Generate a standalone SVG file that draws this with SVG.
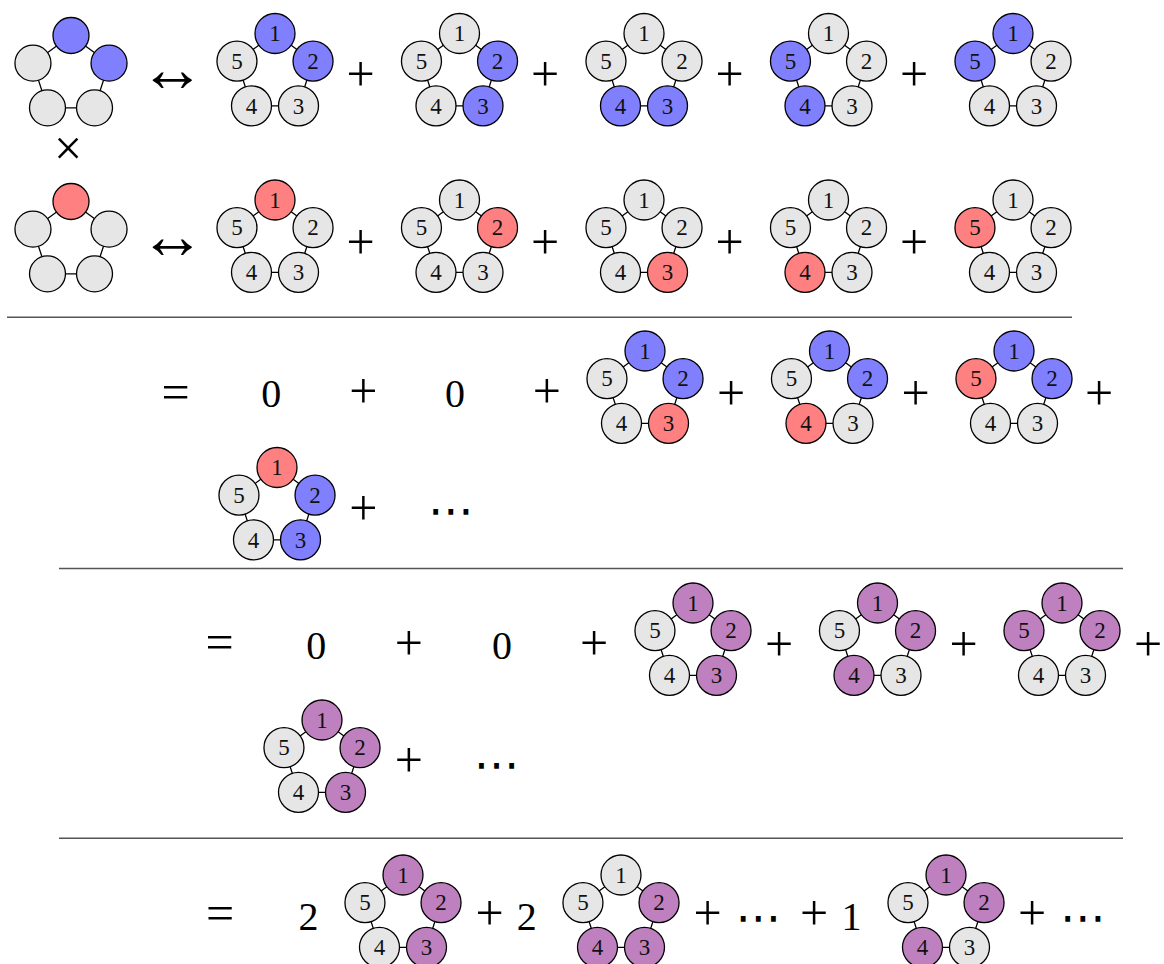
<svg xmlns="http://www.w3.org/2000/svg" xmlns:xlink="http://www.w3.org/1999/xlink" width="1164" height="964" viewBox="0 0 1164 964">
<style>
.ring{fill:none;stroke:#000;stroke-width:1.3}
circle{stroke:#000;stroke-width:1.3;fill:#E6E6E6}
.b{fill:#8080FF}.r{fill:#FF8080}.p{fill:#BF80BF}
.lab{font-family:"Liberation Serif",serif;font-size:23px;text-anchor:middle;fill:#111}
.num{font-family:"Liberation Serif",serif;font-size:40px;text-anchor:middle;fill:#000}
.op{font-family:"Liberation Serif",serif;font-size:50px;text-anchor:middle;fill:#000}
.arr{font-family:"Liberation Serif","DejaVu Sans",serif;font-size:66px;text-anchor:middle;fill:#000}
.sym{font-family:"DejaVu Sans",sans-serif;text-anchor:middle;fill:#000}
.rule{stroke:#555;stroke-width:1.4}
</style>
<defs>
<polygon id="ring" class="ring" points="0,-40 38.04,-12.36 23.51,32.36 -23.51,32.36 -38.04,-12.36"/>
</defs>

<!-- row 1 -->
<g id="r1-lhs" transform="translate(71,75.5)">
<use href="#ring"/>
<circle class="b" cx="0" cy="-40" r="18"/><circle class="b" cx="38.04" cy="-12.36" r="18"/><circle cx="23.51" cy="32.36" r="18"/><circle cx="-23.51" cy="32.36" r="18"/><circle cx="-38.04" cy="-12.36" r="18"/>
</g>
<g id="r1-t1" transform="translate(275,73.5)">
<use href="#ring"/>
<circle class="b" cx="0" cy="-40" r="20"/><circle class="b" cx="38.04" cy="-12.36" r="20"/><circle cx="23.51" cy="32.36" r="20"/><circle cx="-23.51" cy="32.36" r="20"/><circle cx="-38.04" cy="-12.36" r="20"/>
<text class="lab" x="0" y="-32.2">1</text><text class="lab" x="38.04" y="-4.56">2</text><text class="lab" x="23.51" y="40.16">3</text><text class="lab" x="-23.51" y="40.16">4</text><text class="lab" x="-38.04" y="-4.56">5</text>
</g>
<g id="r1-t2" transform="translate(459.5,73.5)">
<use href="#ring"/>
<circle cx="0" cy="-40" r="20"/><circle class="b" cx="38.04" cy="-12.36" r="20"/><circle class="b" cx="23.51" cy="32.36" r="20"/><circle cx="-23.51" cy="32.36" r="20"/><circle cx="-38.04" cy="-12.36" r="20"/>
<text class="lab" x="0" y="-32.2">1</text><text class="lab" x="38.04" y="-4.56">2</text><text class="lab" x="23.51" y="40.16">3</text><text class="lab" x="-23.51" y="40.16">4</text><text class="lab" x="-38.04" y="-4.56">5</text>
</g>
<g id="r1-t3" transform="translate(644,73.5)">
<use href="#ring"/>
<circle cx="0" cy="-40" r="20"/><circle cx="38.04" cy="-12.36" r="20"/><circle class="b" cx="23.51" cy="32.36" r="20"/><circle class="b" cx="-23.51" cy="32.36" r="20"/><circle cx="-38.04" cy="-12.36" r="20"/>
<text class="lab" x="0" y="-32.2">1</text><text class="lab" x="38.04" y="-4.56">2</text><text class="lab" x="23.51" y="40.16">3</text><text class="lab" x="-23.51" y="40.16">4</text><text class="lab" x="-38.04" y="-4.56">5</text>
</g>
<g id="r1-t4" transform="translate(828.5,73.5)">
<use href="#ring"/>
<circle cx="0" cy="-40" r="20"/><circle cx="38.04" cy="-12.36" r="20"/><circle cx="23.51" cy="32.36" r="20"/><circle class="b" cx="-23.51" cy="32.36" r="20"/><circle class="b" cx="-38.04" cy="-12.36" r="20"/>
<text class="lab" x="0" y="-32.2">1</text><text class="lab" x="38.04" y="-4.56">2</text><text class="lab" x="23.51" y="40.16">3</text><text class="lab" x="-23.51" y="40.16">4</text><text class="lab" x="-38.04" y="-4.56">5</text>
</g>
<g id="r1-t5" transform="translate(1013,73.5)">
<use href="#ring"/>
<circle class="b" cx="0" cy="-40" r="20"/><circle cx="38.04" cy="-12.36" r="20"/><circle cx="23.51" cy="32.36" r="20"/><circle cx="-23.51" cy="32.36" r="20"/><circle class="b" cx="-38.04" cy="-12.36" r="20"/>
<text class="lab" x="0" y="-32.2">1</text><text class="lab" x="38.04" y="-4.56">2</text><text class="lab" x="23.51" y="40.16">3</text><text class="lab" x="-23.51" y="40.16">4</text><text class="lab" x="-38.04" y="-4.56">5</text>
</g>

<!-- row 2 -->
<g id="r2-lhs" transform="translate(71,241.5)">
<use href="#ring"/>
<circle class="r" cx="0" cy="-40" r="18"/><circle cx="38.04" cy="-12.36" r="18"/><circle cx="23.51" cy="32.36" r="18"/><circle cx="-23.51" cy="32.36" r="18"/><circle cx="-38.04" cy="-12.36" r="18"/>
</g>
<g id="r2-t1" transform="translate(275,240)">
<use href="#ring"/>
<circle class="r" cx="0" cy="-40" r="20"/><circle cx="38.04" cy="-12.36" r="20"/><circle cx="23.51" cy="32.36" r="20"/><circle cx="-23.51" cy="32.36" r="20"/><circle cx="-38.04" cy="-12.36" r="20"/>
<text class="lab" x="0" y="-32.2">1</text><text class="lab" x="38.04" y="-4.56">2</text><text class="lab" x="23.51" y="40.16">3</text><text class="lab" x="-23.51" y="40.16">4</text><text class="lab" x="-38.04" y="-4.56">5</text>
</g>
<g id="r2-t2" transform="translate(459.5,240)">
<use href="#ring"/>
<circle cx="0" cy="-40" r="20"/><circle class="r" cx="38.04" cy="-12.36" r="20"/><circle cx="23.51" cy="32.36" r="20"/><circle cx="-23.51" cy="32.36" r="20"/><circle cx="-38.04" cy="-12.36" r="20"/>
<text class="lab" x="0" y="-32.2">1</text><text class="lab" x="38.04" y="-4.56">2</text><text class="lab" x="23.51" y="40.16">3</text><text class="lab" x="-23.51" y="40.16">4</text><text class="lab" x="-38.04" y="-4.56">5</text>
</g>
<g id="r2-t3" transform="translate(644,240)">
<use href="#ring"/>
<circle cx="0" cy="-40" r="20"/><circle cx="38.04" cy="-12.36" r="20"/><circle class="r" cx="23.51" cy="32.36" r="20"/><circle cx="-23.51" cy="32.36" r="20"/><circle cx="-38.04" cy="-12.36" r="20"/>
<text class="lab" x="0" y="-32.2">1</text><text class="lab" x="38.04" y="-4.56">2</text><text class="lab" x="23.51" y="40.16">3</text><text class="lab" x="-23.51" y="40.16">4</text><text class="lab" x="-38.04" y="-4.56">5</text>
</g>
<g id="r2-t4" transform="translate(828.5,240)">
<use href="#ring"/>
<circle cx="0" cy="-40" r="20"/><circle cx="38.04" cy="-12.36" r="20"/><circle cx="23.51" cy="32.36" r="20"/><circle class="r" cx="-23.51" cy="32.36" r="20"/><circle cx="-38.04" cy="-12.36" r="20"/>
<text class="lab" x="0" y="-32.2">1</text><text class="lab" x="38.04" y="-4.56">2</text><text class="lab" x="23.51" y="40.16">3</text><text class="lab" x="-23.51" y="40.16">4</text><text class="lab" x="-38.04" y="-4.56">5</text>
</g>
<g id="r2-t5" transform="translate(1013,240)">
<use href="#ring"/>
<circle cx="0" cy="-40" r="20"/><circle cx="38.04" cy="-12.36" r="20"/><circle cx="23.51" cy="32.36" r="20"/><circle cx="-23.51" cy="32.36" r="20"/><circle class="r" cx="-38.04" cy="-12.36" r="20"/>
<text class="lab" x="0" y="-32.2">1</text><text class="lab" x="38.04" y="-4.56">2</text><text class="lab" x="23.51" y="40.16">3</text><text class="lab" x="-23.51" y="40.16">4</text><text class="lab" x="-38.04" y="-4.56">5</text>
</g>

<!-- row 3 -->
<g id="r3-t1" transform="translate(645,391)">
<use href="#ring"/>
<circle class="b" cx="0" cy="-40" r="20"/><circle class="b" cx="38.04" cy="-12.36" r="20"/><circle class="r" cx="23.51" cy="32.36" r="20"/><circle cx="-23.51" cy="32.36" r="20"/><circle cx="-38.04" cy="-12.36" r="20"/>
<text class="lab" x="0" y="-32.2">1</text><text class="lab" x="38.04" y="-4.56">2</text><text class="lab" x="23.51" y="40.16">3</text><text class="lab" x="-23.51" y="40.16">4</text><text class="lab" x="-38.04" y="-4.56">5</text>
</g>
<g id="r3-t2" transform="translate(829.5,391)">
<use href="#ring"/>
<circle class="b" cx="0" cy="-40" r="20"/><circle class="b" cx="38.04" cy="-12.36" r="20"/><circle cx="23.51" cy="32.36" r="20"/><circle class="r" cx="-23.51" cy="32.36" r="20"/><circle cx="-38.04" cy="-12.36" r="20"/>
<text class="lab" x="0" y="-32.2">1</text><text class="lab" x="38.04" y="-4.56">2</text><text class="lab" x="23.51" y="40.16">3</text><text class="lab" x="-23.51" y="40.16">4</text><text class="lab" x="-38.04" y="-4.56">5</text>
</g>
<g id="r3-t3" transform="translate(1014,391)">
<use href="#ring"/>
<circle class="b" cx="0" cy="-40" r="20"/><circle class="b" cx="38.04" cy="-12.36" r="20"/><circle cx="23.51" cy="32.36" r="20"/><circle cx="-23.51" cy="32.36" r="20"/><circle class="r" cx="-38.04" cy="-12.36" r="20"/>
<text class="lab" x="0" y="-32.2">1</text><text class="lab" x="38.04" y="-4.56">2</text><text class="lab" x="23.51" y="40.16">3</text><text class="lab" x="-23.51" y="40.16">4</text><text class="lab" x="-38.04" y="-4.56">5</text>
</g>
<g id="r4-t1" transform="translate(277,507.5)">
<use href="#ring"/>
<circle class="r" cx="0" cy="-40" r="20"/><circle class="b" cx="38.04" cy="-12.36" r="20"/><circle class="b" cx="23.51" cy="32.36" r="20"/><circle cx="-23.51" cy="32.36" r="20"/><circle cx="-38.04" cy="-12.36" r="20"/>
<text class="lab" x="0" y="-32.2">1</text><text class="lab" x="38.04" y="-4.56">2</text><text class="lab" x="23.51" y="40.16">3</text><text class="lab" x="-23.51" y="40.16">4</text><text class="lab" x="-38.04" y="-4.56">5</text>
</g>

<!-- row 5 -->
<g id="r5-t1" transform="translate(693,643)">
<use href="#ring"/>
<circle class="p" cx="0" cy="-40" r="20"/><circle class="p" cx="38.04" cy="-12.36" r="20"/><circle class="p" cx="23.51" cy="32.36" r="20"/><circle cx="-23.51" cy="32.36" r="20"/><circle cx="-38.04" cy="-12.36" r="20"/>
<text class="lab" x="0" y="-32.2">1</text><text class="lab" x="38.04" y="-4.56">2</text><text class="lab" x="23.51" y="40.16">3</text><text class="lab" x="-23.51" y="40.16">4</text><text class="lab" x="-38.04" y="-4.56">5</text>
</g>
<g id="r5-t2" transform="translate(877.5,643)">
<use href="#ring"/>
<circle class="p" cx="0" cy="-40" r="20"/><circle class="p" cx="38.04" cy="-12.36" r="20"/><circle cx="23.51" cy="32.36" r="20"/><circle class="p" cx="-23.51" cy="32.36" r="20"/><circle cx="-38.04" cy="-12.36" r="20"/>
<text class="lab" x="0" y="-32.2">1</text><text class="lab" x="38.04" y="-4.56">2</text><text class="lab" x="23.51" y="40.16">3</text><text class="lab" x="-23.51" y="40.16">4</text><text class="lab" x="-38.04" y="-4.56">5</text>
</g>
<g id="r5-t3" transform="translate(1062,643)">
<use href="#ring"/>
<circle class="p" cx="0" cy="-40" r="20"/><circle class="p" cx="38.04" cy="-12.36" r="20"/><circle cx="23.51" cy="32.36" r="20"/><circle cx="-23.51" cy="32.36" r="20"/><circle class="p" cx="-38.04" cy="-12.36" r="20"/>
<text class="lab" x="0" y="-32.2">1</text><text class="lab" x="38.04" y="-4.56">2</text><text class="lab" x="23.51" y="40.16">3</text><text class="lab" x="-23.51" y="40.16">4</text><text class="lab" x="-38.04" y="-4.56">5</text>
</g>
<g id="r6-t1" transform="translate(322,760)">
<use href="#ring"/>
<circle class="p" cx="0" cy="-40" r="20"/><circle class="p" cx="38.04" cy="-12.36" r="20"/><circle class="p" cx="23.51" cy="32.36" r="20"/><circle cx="-23.51" cy="32.36" r="20"/><circle cx="-38.04" cy="-12.36" r="20"/>
<text class="lab" x="0" y="-32.2">1</text><text class="lab" x="38.04" y="-4.56">2</text><text class="lab" x="23.51" y="40.16">3</text><text class="lab" x="-23.51" y="40.16">4</text><text class="lab" x="-38.04" y="-4.56">5</text>
</g>

<!-- row 7 -->
<g id="r7-t1" transform="translate(403,915)">
<use href="#ring"/>
<circle class="p" cx="0" cy="-40" r="20"/><circle class="p" cx="38.04" cy="-12.36" r="20"/><circle class="p" cx="23.51" cy="32.36" r="20"/><circle cx="-23.51" cy="32.36" r="20"/><circle cx="-38.04" cy="-12.36" r="20"/>
<text class="lab" x="0" y="-32.2">1</text><text class="lab" x="38.04" y="-4.56">2</text><text class="lab" x="23.51" y="40.16">3</text><text class="lab" x="-23.51" y="40.16">4</text><text class="lab" x="-38.04" y="-4.56">5</text>
</g>
<g id="r7-t2" transform="translate(621,915)">
<use href="#ring"/>
<circle cx="0" cy="-40" r="20"/><circle class="p" cx="38.04" cy="-12.36" r="20"/><circle class="p" cx="23.51" cy="32.36" r="20"/><circle class="p" cx="-23.51" cy="32.36" r="20"/><circle cx="-38.04" cy="-12.36" r="20"/>
<text class="lab" x="0" y="-32.2">1</text><text class="lab" x="38.04" y="-4.56">2</text><text class="lab" x="23.51" y="40.16">3</text><text class="lab" x="-23.51" y="40.16">4</text><text class="lab" x="-38.04" y="-4.56">5</text>
</g>
<g id="r7-t3" transform="translate(946,915)">
<use href="#ring"/>
<circle class="p" cx="0" cy="-40" r="20"/><circle class="p" cx="38.04" cy="-12.36" r="20"/><circle cx="23.51" cy="32.36" r="20"/><circle class="p" cx="-23.51" cy="32.36" r="20"/><circle cx="-38.04" cy="-12.36" r="20"/>
<text class="lab" x="0" y="-32.2">1</text><text class="lab" x="38.04" y="-4.56">2</text><text class="lab" x="23.51" y="40.16">3</text><text class="lab" x="-23.51" y="40.16">4</text><text class="lab" x="-38.04" y="-4.56">5</text>
</g>

<!-- separators -->
<g id="connectors">
<line class="rule" x1="7" y1="317.3" x2="1072" y2="317.3"/>
<line class="rule" x1="59" y1="568.5" x2="1123" y2="568.5"/>
<line class="rule" x1="59" y1="838.3" x2="1123" y2="838.3"/>
</g>

<!-- operators and numbers -->
<g id="symbols">
<text class="arr" x="172.5" y="90.5">↔</text>
<text class="arr" x="172.5" y="258">↔</text>
<text class="op" x="68" y="165" font-size="38">×</text>

<text class="op" x="360.5" y="91">+</text><text class="op" x="545" y="91">+</text><text class="op" x="729.5" y="91">+</text><text class="op" x="914" y="91">+</text>
<text class="op" x="360.5" y="259">+</text><text class="op" x="545" y="259">+</text><text class="op" x="729.5" y="259">+</text><text class="op" x="914" y="259">+</text>

<text class="op" x="175.5" y="409">=</text>
<text class="num" x="271.3" y="407.3">0</text>
<text class="op" x="363.3" y="408">+</text>
<text class="num" x="455" y="407.3">0</text>
<text class="op" x="546.8" y="408">+</text>
<text class="op" x="731" y="410">+</text><text class="op" x="915.5" y="410">+</text><text class="op" x="1099" y="410">+</text>
<text class="op" x="363.3" y="525">+</text>
<text class="sym" x="451" y="526" font-size="46">⋯</text>

<text class="op" x="219.7" y="659">=</text>
<text class="num" x="316.3" y="659.2">0</text>
<text class="op" x="408.8" y="660">+</text>
<text class="num" x="502" y="659.2">0</text>
<text class="op" x="594" y="660">+</text>
<text class="op" x="779" y="661">+</text><text class="op" x="963.5" y="661">+</text><text class="op" x="1148" y="661">+</text>
<text class="op" x="408.8" y="777">+</text>
<text class="sym" x="496.7" y="779.5" font-size="46">⋯</text>

<text class="op" x="220" y="930">=</text>
<text class="num" x="308.5" y="929.5">2</text>
<text class="op" x="489.5" y="930">+</text>
<text class="num" x="526.7" y="929.5">2</text>
<text class="op" x="707.5" y="930">+</text>
<text class="sym" x="758.5" y="932.5" font-size="46">⋯</text>
<text class="op" x="814" y="930">+</text>
<text class="num" x="851.5" y="929.5">1</text>
<text class="op" x="1032" y="930">+</text>
<text class="sym" x="1083" y="932.5" font-size="46">⋯</text>
</g>
</svg>
